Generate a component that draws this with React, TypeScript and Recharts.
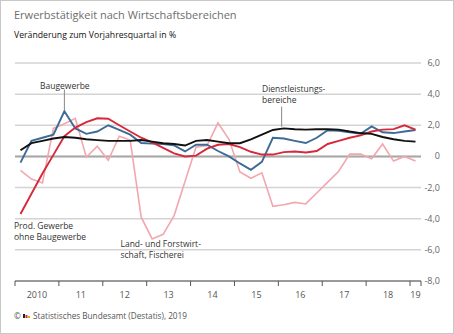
import { CartesianGrid, Line, LineChart, ReferenceLine, XAxis, YAxis } from 'recharts'

// Quartalswerte 2010 Q1 bis 2019 Q1, Veränderung zum Vorjahresquartal in %
const years = ['2010', '11', '12', '13', '14', '15', '16', '17', '18', '19']

const baugewerbe = [
  -0.4, 1.0, 1.2, 1.4, 2.9, 1.8, 1.45, 1.6, 2.0, 1.7, 1.4, 0.86, 0.82, 0.8, 0.71, 0.32, 0.75, 0.75,
  0.35, 0.0, -0.45, -0.86, -0.35, 1.2, 1.15, 1.0, 0.86, 1.2, 1.68, 1.65, 1.55, 1.45, 1.93, 1.55, 1.5,
  1.6, 1.7,
]
const dienstleistung = [
  0.4, 0.85, 1.0, 1.15, 1.25, 1.2, 1.1, 1.05, 1.0, 1.0, 1.0, 1.05, 0.95, 0.85, 0.8, 0.7, 1.0, 1.05,
  0.95, 0.85, 0.85, 1.1, 1.4, 1.7, 1.8, 1.75, 1.72, 1.75, 1.75, 1.72, 1.6, 1.5, 1.45, 1.25, 1.1, 1.0,
  0.95,
]
const prodGewerbe = [
  -3.7, -2.4, -1.1, 0.1, 1.3, 1.85, 2.2, 2.45, 2.42, 2.0, 1.6, 1.2, 0.9, 0.55, 0.2, 0.0, 0.05, 0.5,
  0.75, 0.8, 0.6, 0.3, 0.12, 0.12, 0.28, 0.32, 0.25, 0.35, 0.8, 1.0, 1.2, 1.35, 1.6, 1.72, 1.75, 2.0,
  1.72,
]
const landwirtschaft = [
  -0.9, -1.45, -1.7, 1.8, 2.1, 2.45, -0.05, 0.65, -0.25, 1.3, 1.05, -3.9, -5.3, -5.0, -3.8, -1.6, 0.6,
  0.7, 2.15, 1.1, -1.0, -1.4, -1.05, -3.2, -3.1, -2.95, -3.05, -2.35, -1.65, -0.95, 0.15, 0.15, -0.15,
  0.8, -0.3, 0.0, -0.3,
]

const yTicks = [-8, -6, -4, -2, 0, 2, 4, 6]
const xTicks = [0, 4, 8, 12, 16, 20, 24, 28, 32, 36, 37]

const data = baugewerbe.map((v, i) => ({
  t: i + 0.5,
  bau: v,
  dienst: dienstleistung[i],
  prod: prodGewerbe[i],
  land: landwirtschaft[i],
}))

const W = 454
const H = 334
const Y_W = 33
const MARGIN = { top: 63, right: 0, left: 15, bottom: 33 }
const QW = (W - MARGIN.left - Y_W) / baugewerbe.length
const FONT = '"Open Sans", sans-serif'

function XTick({ x, y, payload }: any) {
  const v = payload.value
  if (v >= 37) return null
  const dx = v === 36 ? QW / 2 : QW * 2
  return (
    <text x={x + dx} y={y + 10} textAnchor="middle" fill="#555" fontSize={9} fontFamily={FONT}>
      {years[v / 4]}
    </text>
  )
}

function YTick({ y, payload }: any) {
  const v = payload.value
  const label = v === 0 ? '0' : v.toFixed(1).replace('.', ',')
  return (
    <text x={W - 14} y={y + 3} textAnchor="end" fill="#666" fontSize={9} fontFamily={FONT}>
      {label}
    </text>
  )
}

export default function App() {
  return (
    <div
      style={{
        position: 'absolute',
        left: 0,
        top: 0,
        width: W,
        height: H,
        border: '1px solid #c8c8c8',
        boxSizing: 'border-box',
        background: '#fff',
      }}
    >
      <div style={{ position: 'absolute', left: -1, top: -1 }}>
        <LineChart width={W} height={H} data={data} margin={MARGIN}>
          <CartesianGrid vertical={false} stroke="#d4d4d4" strokeWidth={1.5} />
          <XAxis
            dataKey="t"
            type="number"
            domain={[0, 37]}
            ticks={xTicks}
            interval={0}
            tick={<XTick />}
            tickSize={5}
            stroke="#555"
            height={20}
          />
          <YAxis
            orientation="right"
            domain={[-8, 6]}
            ticks={yTicks}
            interval={0}
            axisLine={false}
            tickLine={false}
            tick={<YTick />}
            width={Y_W}
          />
          <ReferenceLine y={0} stroke="#a8a8a8" strokeWidth={2} />
          <ReferenceLine segment={[{ x: 4.5, y: 3.0 }, { x: 4.5, y: 4.3 }]} stroke="#888" />
          <ReferenceLine segment={[{ x: 24.3, y: 1.9 }, { x: 24.3, y: 3.2 }]} stroke="#888" />
          <Line dataKey="land" stroke="#f2a7af" strokeWidth={1.6} dot={false} isAnimationActive={false} />
          <Line dataKey="bau" stroke="#3d6b95" strokeWidth={1.9} dot={false} isAnimationActive={false} />
          <Line dataKey="prod" stroke="#d6293b" strokeWidth={1.9} dot={false} isAnimationActive={false} />
          <Line dataKey="dienst" stroke="#111" strokeWidth={1.9} dot={false} isAnimationActive={false} />
        </LineChart>
      </div>
      <svg
        width={W}
        height={H}
        style={{ position: 'absolute', left: -1, top: -1, pointerEvents: 'none' }}
        fontFamily={FONT}
      >
        <text x={14} y={19} fontSize={11} fill="#6e6e6e">
          Erwerbstätigkeit nach Wirtschaftsbereichen
        </text>
        <text x={14} y={37.5} fontSize={8.7} fill="#111" fontWeight={500}>
          Veränderung zum Vorjahresquartal in %
        </text>
        <g fontSize={8.5} fill="#333">
          <text x={40} y={88.5}>Baugewerbe</text>
          <text x={262} y={92}>Dienstleistungs-</text>
          <text x={262} y={103}>bereiche</text>
          <text x={14} y={228.5}>Prod. Gewerbe</text>
          <text x={14} y={240}>ohne Baugewerbe</text>
          <text x={120.5} y={246.5}>Land- und Forstwirt-</text>
          <text x={120.5} y={258}>schaft, Fischerei</text>
        </g>
        <g fontSize={8.2} fill="#555">
          <text x={14} y={319.3}>©</text>
          <rect x={23} y={314} width={2} height={4} fill="#222" />
          <rect x={25.5} y={315} width={2} height={3} fill="#d6293b" />
          <rect x={28} y={316} width={2} height={2} fill="#e0b400" />
          <text x={33} y={319.3}>Statistisches Bundesamt (Destatis), 2019</text>
        </g>
      </svg>
    </div>
  )
}
